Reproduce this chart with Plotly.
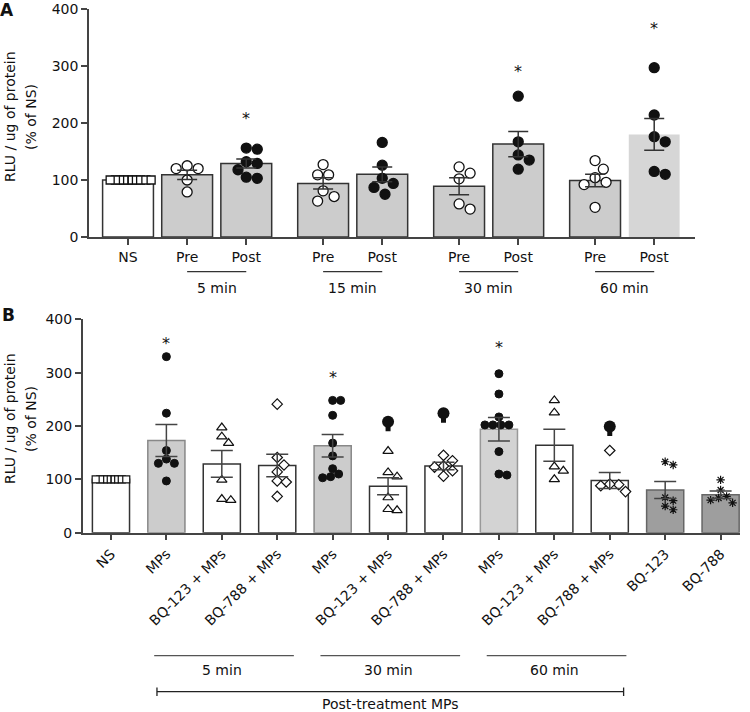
import plotly.graph_objects as go

# ---------------- data: panel A ----------------
a_labels = ["NS", "Pre", "Post", "Pre", "Post", "Pre", "Post", "Pre", "Post"]
a_times = ["5 min", "15 min", "30 min", "60 min"]
a_means = [100, 109, 129, 94, 110, 89, 163, 99, 180]
a_sem = [0, 8, 8, 10, 13, 15, 22, 11, 28]
a_points = [
    [100] * 10,
    [120, 120, 125, 100, 79],
    [132, 156, 154, 129, 118, 103, 105],
    [109, 109, 127, 81, 63, 71],
    [166, 126, 94, 103, 87, 75],
    [112, 102, 123, 49, 58],
    [247, 167, 144, 135, 119],
    [119, 134, 96, 92, 104, 52],
    [297, 214, 176, 167, 110, 115],
]
a_stars = [None, None, 213, None, None, None, 296, None, 371]

# ---------------- data: panel B ----------------
b_labels = ["NS", "MPs", "BQ-123 + MPs", "BQ-788 + MPs",
            "MPs", "BQ-123 + MPs", "BQ-788 + MPs",
            "MPs", "BQ-123 + MPs", "BQ-788 + MPs",
            "BQ-123", "BQ-788"]
b_times = ["5 min", "30 min", "60 min"]
b_means = [100, 173, 129, 126, 163, 87, 125, 194, 164, 98, 80, 71]
b_sem = [0, 30, 25, 21, 21, 16, 7, 22, 30, 15, 16, 7]
b_points = [
    [100] * 9,
    [330, 224, 154, 130, 130, 138, 97],
    [197, 180, 168, 99, 61, 63],
    [241, 141, 127, 114, 97, 95, 68],
    [248, 248, 220, 168, 144, 120, 110, 103, 105],
    [153, 113, 105, 66, 42, 44],
    [145, 135, 125, 123, 116, 106],
    [298, 260, 217, 202, 202, 202, 202, 152, 108, 110],
    [248, 225, 124, 116, 100],
    [154, 90, 77, 88, 91],
    [133, 127, 60, 43, 50, 66],
    [99, 80, 65, 56, 61, 68],
]
b_stars = [None, 361, None, None, 297, None, None, 353, None, None, None, None]
b_daggers = [None, None, None, None, None, 208, 224, None, None, 199, None, None]

FONT = "DejaVu Sans"
W, H = 750, 712


def px_x(p):
    return p / W


def px_y(p):
    return 1 - p / H


def swarm(values, sep, x_scale, y_scale):
    # simple beeswarm: offset each point sideways until it stops overlapping
    placed = []
    offs = [0.0] * len(values)
    order = sorted(range(len(values)), key=lambda i: -values[i])
    step = sep / 4.0
    for i in order:
        y = values[i] * y_scale
        k = 0
        while True:
            c = ((k + 1) // 2) * step * (1 if k % 2 else -1) if k else 0.0
            if all((c - px) ** 2 + (y - py) ** 2 >= sep ** 2 for px, py in placed):
                break
            k += 1
        placed.append((c, y))
        offs[i] = c / x_scale
    return offs


def note(x, y, text, xref="paper", yref="paper", size=14, **kw):
    return dict(x=x, y=y, xref=xref, yref=yref, text=text, showarrow=False,
                xanchor="center", yanchor="middle",
                font=dict(size=size, color="#111111"), **kw)


fig = go.Figure()

# ---------------- panel A ----------------
a_pos = [i + 0.3 * max(0, (i - 1) // 2) for i in range(len(a_labels))]
a_xs, a_ys = 59.1, 0.57   # px per unit
a_fill = ["white"] + ["#cccccc"] * 7 + ["#d6d6d6"]
a_line = ["#333333"] * 8 + ["rgba(0,0,0,0)"]

fig.add_trace(go.Bar(
    x=a_pos, y=a_means, width=0.86, xaxis="x", yaxis="y",
    marker=dict(color=a_fill, line=dict(color=a_line, width=1.5)),
    showlegend=False, hoverinfo="skip"))

for i, vals in enumerate(a_points):
    if i == 0:
        offs = swarm(vals, 4.2, a_xs, a_ys)
        sym, size, col = "square", 8, "white"
    elif a_labels[i] == "Pre":
        offs = swarm(vals, 11, a_xs, a_ys)
        sym, size, col = "circle", 10, "white"
    else:
        offs = swarm(vals, 11, a_xs, a_ys)
        sym, size, col = "circle", 10, "#111111"
    fig.add_trace(go.Scatter(
        x=[a_pos[i] + o for o in offs], y=vals, mode="markers",
        xaxis="x", yaxis="y", cliponaxis=False, showlegend=False,
        marker=dict(symbol=sym, size=size, color=col,
                    line=dict(color="#111111", width=1.3))))

fig.add_trace(go.Scatter(
    x=a_pos[1:], y=a_means[1:], mode="markers", xaxis="x", yaxis="y",
    marker=dict(color="rgba(0,0,0,0)", size=1), showlegend=False,
    error_y=dict(type="data", array=a_sem[1:], color="#333333",
                 thickness=1.5, width=10)))

# ---------------- panel B ----------------
b_pos = list(range(len(b_labels)))
b_xs, b_ys = 55.4, 0.533
b_fill = ["white", "#cccccc", "white", "white", "#cccccc", "white", "white",
          "#d3d3d3", "white", "white", "#9e9e9e", "#9e9e9e"]
b_line = ["#333333", "#888888", "#333333", "#333333", "#888888", "#333333",
          "#333333", "#999999", "#333333", "#333333", "#666666", "#666666"]

fig.add_trace(go.Bar(
    x=b_pos, y=b_means, width=0.67, xaxis="x2", yaxis="y2",
    marker=dict(color=b_fill, line=dict(color=b_line, width=1.5)),
    showlegend=False, hoverinfo="skip"))

for i, vals in enumerate(b_points):
    lab = b_labels[i]
    if i == 0:
        offs = swarm(vals, 3.6, b_xs, b_ys)
        sym, size, col, lw = "square", 7, "white", 1.2
    elif lab == "MPs":
        offs = swarm(vals, 8, b_xs, b_ys)
        sym, size, col, lw = "circle", 8, "#111111", 1
    elif lab.startswith("BQ-123 +"):
        offs = swarm(vals, 9, b_xs, b_ys)
        sym, size, col, lw = "triangle-up", 9, "white", 1.2
    elif lab.startswith("BQ-788 +"):
        offs = swarm(vals, 9, b_xs, b_ys)
        sym, size, col, lw = "diamond", 8, "white", 1.2
    else:
        offs = swarm(vals, 8, b_xs, b_ys)
        sym, size, col, lw = "asterisk-open", 7, "#111111", 1.2
    fig.add_trace(go.Scatter(
        x=[b_pos[i] + o for o in offs], y=vals, mode="markers",
        xaxis="x2", yaxis="y2", cliponaxis=False, showlegend=False,
        marker=dict(symbol=sym, size=size, color=col,
                    line=dict(color="#111111", width=lw))))

fig.add_trace(go.Scatter(
    x=b_pos[1:], y=b_means[1:], mode="markers", xaxis="x2", yaxis="y2",
    marker=dict(color="rgba(0,0,0,0)", size=1), showlegend=False,
    error_y=dict(type="data", array=b_sem[1:], color="#444444",
                 thickness=1.5, width=11)))

# dagger-like marks (filled head + stem)
dx = [b_pos[i] for i, v in enumerate(b_daggers) if v is not None]
dy = [v for v in b_daggers if v is not None]
fig.add_trace(go.Scatter(
    x=dx, y=[v - 7 / b_ys for v in dy], mode="markers", xaxis="x2", yaxis="y2",
    marker=dict(symbol="square", size=5, color="#111111"), showlegend=False))
fig.add_trace(go.Scatter(
    x=dx, y=dy, mode="markers", xaxis="x2", yaxis="y2",
    marker=dict(symbol="circle", size=12, color="#111111"), showlegend=False))

# ---------------- annotations ----------------
ann = []
for i, v in enumerate(a_stars):
    if v is not None:
        ann.append(note(a_pos[i], v, "*", "x", "y", size=16, yshift=-3))
for i, v in enumerate(b_stars):
    if v is not None:
        ann.append(note(b_pos[i], v, "*", "x2", "y2", size=16, yshift=-3))

shapes = []
# group lines panel A
for g, t in enumerate(a_times):
    x0, x1 = a_pos[1 + 2 * g], a_pos[2 + 2 * g]
    shapes.append(dict(type="line", xref="x", yref="paper", x0=x0, x1=x1,
                       y0=px_y(271.7), y1=px_y(271.7),
                       line=dict(color="#333333", width=1.3)))
    ann.append(note((x0 + x1) / 2, px_y(288), t, "x", "paper", size=14))

# group lines panel B
for g, t in enumerate(b_times):
    c = b_pos[2 + 3 * g]
    shapes.append(dict(type="line", xref="x2", yref="paper",
                       x0=c - 1.22, x1=c + 1.3,
                       y0=px_y(655.7), y1=px_y(655.7),
                       line=dict(color="#555555", width=1.3)))
    ann.append(note(c, px_y(670), t, "x2", "paper", size=14))

# post-treatment bracket
bx0, bx1 = b_pos[1] - 0.17, b_pos[9] + 0.25
shapes.append(dict(type="line", xref="x2", yref="paper", x0=bx0, x1=bx1,
                   y0=px_y(691.7), y1=px_y(691.7),
                   line=dict(color="#222222", width=1.3)))
for xe in (bx0, bx1):
    shapes.append(dict(type="line", xref="x2", yref="paper", x0=xe, x1=xe,
                       y0=px_y(687.5), y1=px_y(696),
                       line=dict(color="#222222", width=1.3)))
ann.append(note((bx0 + bx1) / 2, px_y(704), "Post-treatment MPs", "x2", "paper"))

# y titles (two rotated lines each) and panel letters
for cy in (117, 419):
    ann.append(note(px_x(10), px_y(cy), "RLU / ug of protein", textangle=-90))
    ann.append(note(px_x(31), px_y(cy), "(% of NS)", textangle=-90))
ann.append(note(px_x(7), px_y(10), "<b>A</b>", size=17))
ann.append(note(px_x(8), px_y(315), "<b>B</b>", size=17))

axis_common = dict(showgrid=False, zeroline=False, showline=True,
                   automargin=False,
                   linecolor="#444444", linewidth=1.5, ticks="outside",
                   ticklen=6, tickwidth=1.5, tickcolor="#444444",
                   tickfont=dict(size=14, color="#111111"))

fig.update_layout(
    template="none",
    width=W, height=H, margin=dict(l=0, r=0, t=0, b=0, pad=0),
    paper_bgcolor="white", plot_bgcolor="white",
    font=dict(family=FONT, color="#111111"),
    showlegend=False, barmode="overlay",
    xaxis=dict(domain=[px_x(89), px_x(695)], range=[-0.66, 9.59],
               anchor="y", tickvals=a_pos, ticktext=a_labels,
               tickangle=0, **axis_common),
    yaxis=dict(domain=[px_y(237), px_y(9)], range=[0, 400], anchor="x",
               tickvals=[0, 100, 200, 300, 400], **axis_common),
    xaxis2=dict(domain=[px_x(82.7), px_x(740)], range=[-0.51, 11.35],
                anchor="y2", tickvals=b_pos, ticktext=b_labels,
                tickangle=-45, **axis_common),
    yaxis2=dict(domain=[px_y(532.7), px_y(319.3)], range=[0, 400],
                anchor="x2", tickvals=[0, 100, 200, 300, 400],
                **axis_common),
    annotations=ann, shapes=shapes,
)

# the page body has a default 8px margin; drop it so the figure sits at 0,0
fig.write_html("out.html", config={"displayModeBar": False},
               post_script="document.body.style.margin = '0';")
